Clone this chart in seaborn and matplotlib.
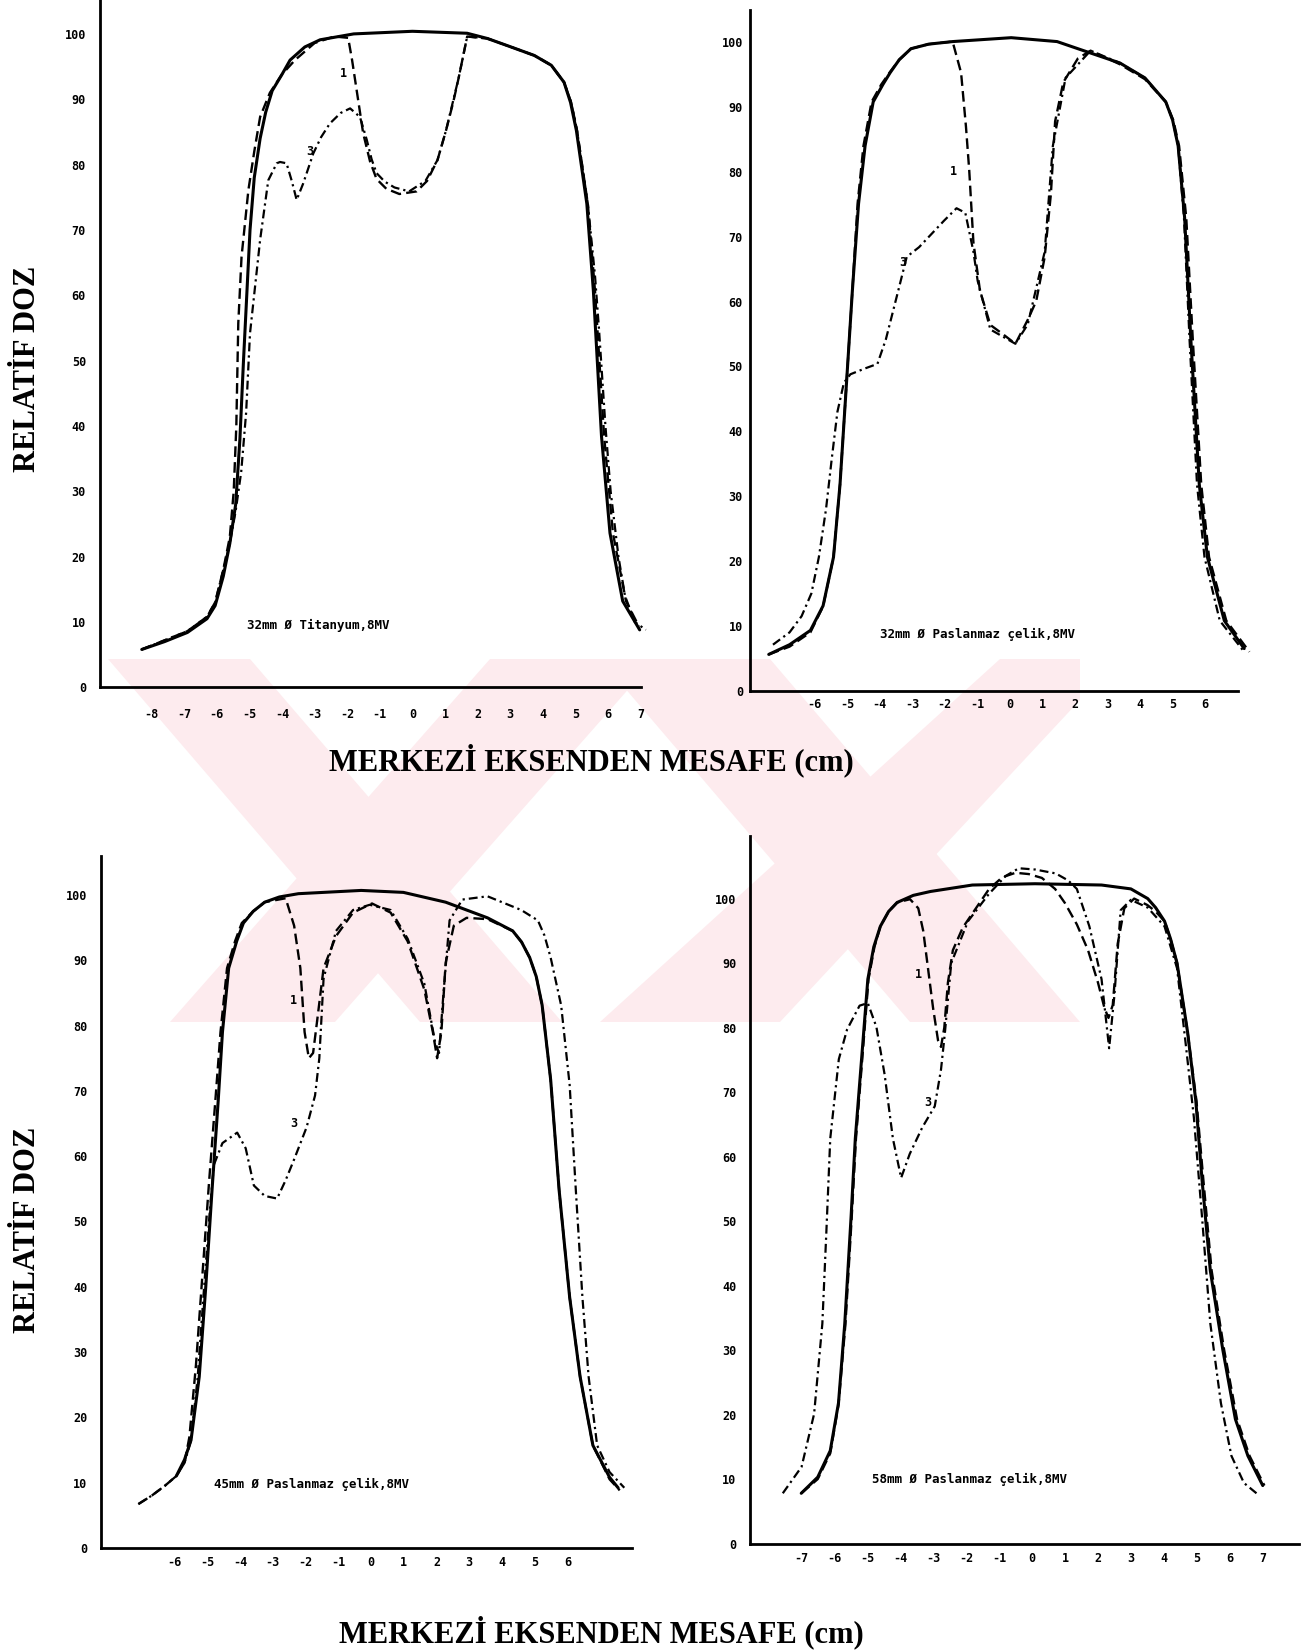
import matplotlib
matplotlib.use("Agg")
import matplotlib.pyplot as plt
import seaborn as sns
from matplotlib.patches import Polygon

# ---------------- data ----------------
y_ticks = [0, 10, 20, 30, 40, 50, 60, 70, 80, 90, 100]
x_ticks_p1 = list(range(-8, 8))
x_ticks_p2 = list(range(-6, 7))
x_ticks_p3 = list(range(-6, 7))
x_ticks_p4 = list(range(-7, 8))

titles = ["32mm \u00d8 Titanyum,8MV", "32mm \u00d8 Paslanmaz \u00e7elik,8MV",
          "45mm \u00d8 Paslanmaz \u00e7elik,8MV", "58mm \u00d8 Paslanmaz \u00e7elik,8MV"]
y_label = "RELAT\u0130F DOZ"
x_label = "MERKEZ\u0130 EKSENDEN MESAFE (cm)"

# Panel 1: 32mm titanium
p1_solid_x = [-8.3, -7.6, -6.9, -6.3, -6.05, -5.8, -5.6, -5.42, -5.29, -5.18, -5.08, -4.98, -4.85, -4.67,
              -4.5, -4.3, -4.0, -3.75, -3.3, -2.83, -1.8, 0.0, 1.68, 2.3, 2.97, 3.74, 4.26, 4.65, 4.85,
              5.03, 5.35, 5.55, 5.8, 6.06, 6.45, 6.97]
p1_solid_y = [5.8, 7.0, 8.4, 10.5, 12.5, 17, 22, 28, 38, 50, 60, 70, 78, 84,
              88, 91.3, 93.8, 96, 98, 99.1, 100, 100.4, 100.1, 99.3, 98.1, 96.7, 95.2, 92.6, 89.5,
              85.2, 74, 60.7, 38.4, 23.6, 13.2, 8.8]
p1_d1_x = [-8.3, -7.6, -6.9, -6.3, -6.05, -5.8, -5.6, -5.48, -5.4, -5.34, -5.24, -5.03, -4.85, -4.67,
           -4.37, -4.0, -3.6, -3.0, -2.4, -1.97, -1.85, -1.71, -1.51, -1.3, -1.1, -0.8, -0.4, 0.13,
           0.45, 0.77, 1.03, 1.25, 1.42, 1.68, 2.3, 2.97, 3.74, 4.26, 4.65, 4.87, 5.05, 5.38, 5.6,
           5.88, 6.15, 6.55, 6.95]
p1_d1_y = [5.8, 7.2, 8.6, 10.8, 13, 18, 23, 30, 40, 55.7, 65.9, 76.1, 82, 87.3,
           91, 93.8, 96, 98.6, 99.6, 99.4, 96, 91.4, 84.8, 80.5, 77.8, 76.3, 75.5, 75.9,
           77.5, 80.7, 85.2, 89.5, 93.3, 99.6, 99.3, 98.1, 96.7, 95.2, 92.6, 89.5, 85.2, 74, 60.7,
           38.4, 23.6, 13.2, 9.3]
p1_d3_x = [-8.3, -7.6, -6.9, -6.3, -6.05, -5.8, -5.6, -5.42, -5.25, -5.1, -4.98, -4.67, -4.42, -4.16,
           -4.06, -3.86, -3.7, -3.55, -3.35, -3.04, -2.8, -2.53, -2.2, -1.91, -1.61, -1.4, -1.25, -1.1,
           -0.85, -0.55, -0.1, 0.4, 0.77, 1.03, 1.42, 1.68, 2.3, 2.97, 3.74, 4.26, 4.65, 4.87, 5.05,
           5.38, 5.6, 5.72, 5.92, 6.08, 6.32, 6.52, 6.82, 7.16]
p1_d3_y = [5.8, 7.2, 8.6, 10.8, 13, 18, 22, 27, 33, 42, 54.2, 68.5, 77.6, 80.2,
           80.4, 80.2, 77.5, 74.6, 77.1, 81.7, 84.2, 86.3, 87.9, 88.6, 87.3, 83.8, 80.8, 78.7,
           77.4, 76.5, 75.9, 77.5, 80.7, 85.2, 93.3, 99.6, 99.3, 98.1, 96.7, 95.2, 92.6, 89.5, 85.2,
           74, 63, 55, 40, 30, 20, 14, 10, 8.8]

# Panel 2: 32mm stainless steel
p2_solid_x = [-7.41, -6.77, -6.13, -5.74, -5.42, -5.22, -5.03, -4.84, -4.65, -4.45, -4.2, -3.9, -3.68,
              -3.4, -3.04, -2.5, -1.76, 0.04, 1.45, 2.09, 3.38, 4.15, 4.79, 5.0, 5.17, 5.37, 5.56, 5.82,
              6.07, 6.59, 7.2]
p2_solid_y = [5.6, 7.1, 9.3, 13.1, 20.6, 31.8, 46.7, 61.7, 75.1, 84, 90.8, 93.5, 95.3,
              97.3, 99, 99.7, 100.1, 100.7, 100.1, 99, 96.8, 94.5, 90.8, 88, 84, 72.9, 54.2, 31.8,
              20.6, 10.8, 6.5]
p2_d1_x = [-7.41, -6.77, -6.13, -5.74, -5.42, -5.22, -5.03, -4.84, -4.68, -4.5, -4.25, -3.95, -3.7,
           -3.4, -3.04, -2.5, -1.76, -1.5, -1.35, -1.25, -1.12, -0.92, -0.6, -0.22, 0.17, 0.55, 0.81,
           1.07, 1.26, 1.39, 1.64, 2.09, 2.48, 3.38, 4.15, 4.79, 5.02, 5.2, 5.42, 5.62, 5.88, 6.12,
           6.65, 7.36]
p2_d1_y = [5.6, 6.8, 9.0, 13, 20.6, 31.8, 46.7, 61.7, 75.1, 84, 90.8, 93.5, 95.3,
           97.3, 99, 99.7, 100.1, 95.3, 87, 80.3, 69.1, 61.7, 56.4, 55, 53.5, 57.2, 60.1,
           66.9, 76.6, 87.8, 93.8, 97.5, 98.7, 96.6, 94.3, 90.8, 88, 84, 72.9, 54.2, 31.8, 20.6,
           10.8, 6.0]
p2_d3_x = [-7.28, -6.77, -6.4, -6.1, -5.87, -5.65, -5.48, -5.3, -5.1, -4.9, -4.45, -4.07, -3.81, -3.43,
           -3.17, -2.79, -2.02, -1.64, -1.37, -1.12, -0.99, -0.6, 0.17, 0.55, 1.07, 1.32, 1.71, 2.48,
           3.38, 4.15, 4.79, 5.0, 5.17, 5.35, 5.52, 5.75, 5.98, 6.45, 7.2]
p2_d3_y = [7.1, 9.0, 11.5, 15, 20.6, 28, 35.5, 43, 47.5, 48.8, 49.7, 50.4, 54.2, 61.7,
           66.9, 68.4, 72.5, 74.4, 73.7, 67.7, 63.2, 55.7, 53.5, 56.5, 67.7, 84, 94.5, 98.7,
           96.8, 94.5, 90.8, 88, 84, 72.9, 54.2, 31.8, 20.6, 10.8, 6.0]

# Panel 3: 45mm stainless steel
p3_solid_x = [-5.95, -5.7, -5.5, -5.25, -5.05, -4.86, -4.67, -4.54, -4.35, -4.1, -3.9, -3.6, -3.25,
              -2.8, -2.22, -0.3, 0.99, 2.28, 3.56, 4.33, 4.6, 4.85, 5.05, 5.23, 5.49, 5.75, 6.07, 6.39,
              6.78, 7.29, 7.55]
p3_solid_y = [11, 13.5, 16.5, 26.2, 40, 54.7, 68.5, 79, 88.8, 93, 95.7, 97.5, 98.9,
              99.7, 100.2, 100.7, 100.4, 98.9, 96.5, 94.5, 92.8, 90.4, 87.5, 83.1, 71.7, 54.7, 38.4,
              26.2, 15.7, 10.8, 9.2]
p3_d1_x = [-7.11, -6.7, -6.3, -5.95, -5.7, -5.55, -5.35, -5.15, -4.95, -4.75, -4.6, -4.4, -4.15, -3.95,
           -3.6, -3.25, -2.61, -2.35, -2.16, -2.03, -1.9, -1.77, -1.65, -1.45, -1.07, -0.55, 0.03,
           0.6, 1.12, 1.63, 1.89, 2.02, 2.15, 2.28, 2.53, 2.92, 3.56, 4.33, 4.6, 4.85, 5.05, 5.23,
           5.49, 5.75, 6.07, 6.39, 6.78, 7.29, 7.6]
p3_d1_y = [6.7, 8, 9.5, 11, 13, 17, 28, 42, 56, 69, 79, 88.8, 93, 95.7,
           97.5, 98.9, 99.5, 95.3, 88.8, 79, 75, 75.8, 80.6, 88.8, 93.7, 97.3, 98.7,
           97.3, 92.9, 85.5, 79, 75, 79, 89.6, 95.3, 96.5, 96.3, 94.5, 92.8, 90.4, 87.5, 83.1,
           71.7, 54.7, 38.4, 26.2, 15.7, 10.5, 8.8]
p3_d3_x = [-7.11, -6.7, -6.3, -5.95, -5.7, -5.5, -5.3, -5.1, -4.92, -4.8, -4.54, -4.09, -3.83, -3.58,
           -3.25, -2.87, -2.61, -2.35, -1.97, -1.71, -1.58, -1.45, -1.07, -0.55, -0.04, 0.6, 1.12,
           1.63, 1.96, 2.08, 2.21, 2.4, 2.79, 3.56, 4.59, 5.1, 5.3, 5.49, 5.81, 6.07, 6.26, 6.46,
           6.65, 6.91, 7.29, 7.74]
p3_d3_y = [6.7, 8, 9.5, 11, 13, 16.5, 26, 40, 52, 58.7, 62, 63.6, 61.2, 55.5,
           53.9, 53.5, 56.3, 59.5, 64.4, 69.3, 75, 87.2, 94.5, 97.7, 98.5, 97.7, 93.3,
           86.4, 77.4, 75.8, 84.7, 96.1, 99.3, 99.8, 97.7, 96.1, 93.8, 90.4, 83.1, 70.9, 54.7, 38.4,
           26.2, 15.7, 11.6, 9.2]

# Panel 4: 58mm stainless steel
p4_solid_x = [-7.0, -6.5, -6.12, -5.87, -5.68, -5.49, -5.36, -5.17, -4.98, -4.8, -4.6, -4.35, -4.09,
              -3.6, -3.08, -1.81, 0.09, 2.11, 3.0, 3.51, 3.75, 4.02, 4.2, 4.4, 4.72, 4.97, 5.16, 5.41,
              5.79, 6.17, 6.55, 7.0]
p4_solid_y = [7.8, 10.3, 14.4, 21.8, 34.1, 50.5, 62.8, 75.1, 87.5, 92.5, 95.7, 98, 99.4,
              100.5, 101.1, 102.1, 102.3, 102.1, 101.5, 100, 98.6, 96.5, 93.8, 90, 79.3, 68.6, 56.3,
              42.3, 30, 19.3, 13.6, 9]
p4_d1_x = [-7.0, -6.5, -6.12, -5.87, -5.66, -5.47, -5.34, -5.15, -4.96, -4.78, -4.6, -4.35, -4.09,
           -3.7, -3.45, -3.3, -3.15, -3.0, -2.85, -2.76, -2.66, -2.55, -2.4, -2.1, -1.7, -1.3, -0.9,
           -0.5, -0.1, 0.3, 0.7, 1.0, 1.36, 1.7, 2.0, 2.2, 2.32, 2.45, 2.6, 2.8, 3.1, 3.5, 3.75,
           4.02, 4.2, 4.4, 4.72, 4.99, 5.2, 5.45, 5.83, 6.22, 6.6, 7.05]
p4_d1_y = [7.8, 10, 14, 21.5, 34, 50.5, 62.8, 75.1, 87.5, 92.5, 95.7, 98, 99.4,
           99.9, 98.5, 95, 89, 83, 78, 77, 80, 87, 92, 95.5, 98.5, 101.5, 103.3,
           104, 103.8, 103.2, 101.5, 99.3, 96, 92, 87, 83, 81.5, 83.5, 93, 98.5, 100, 99, 98,
           96.5, 93.8, 90, 79.3, 68.6, 56.3, 42.3, 30, 19.3, 13.6, 9.0]
p4_d3_x = [-7.56, -6.99, -6.61, -6.36, -6.24, -6.12, -5.86, -5.61, -5.23, -4.98, -4.72, -4.47, -4.22,
           -3.97, -3.71, -3.33, -2.95, -2.76, -2.64, -2.45, -1.94, -1.31, -0.8, -0.4, 0.1, 0.72, 1.1,
           1.36, 1.74, 2.11, 2.34, 2.5, 2.69, 3.0, 3.51, 4.02, 4.4, 4.66, 4.91, 5.16, 5.41, 5.73,
           6.05, 6.43, 6.81]
p4_d3_y = [7.8, 11.9, 20.1, 34.1, 48.1, 62.8, 75.1, 79.7, 83.4, 83.8, 80.1, 72.7, 62.8,
           56.7, 60.4, 64.5, 67.8, 73.5, 79.3, 90, 96.5, 100.7, 103.5, 104.7, 104.5, 103.9, 102.8,
           101.5, 95.7, 87.5, 76.8, 85, 98.2, 99.8, 98.6, 95.7, 89.2, 77.6, 66.1, 50.5, 34.1, 21.8,
           13.6, 9.4, 7.8]

# curve label positions ("1" and "3") and annotation anchor per panel
lab1_pos = [(-2.13, 94), (-1.72, 80), (-2.38, 83.9), (-3.46, 88.3)]
lab3_pos = [(-3.14, 82), (-3.3, 66.1), (-2.35, 65), (-3.17, 68.4)]
note_pos = [(-5.06, 9.5), (-3.98, 8.7), (-4.8, 9.7), (-4.85, 10.0)]

# ---------------- style ----------------
sns.set_theme(style="white")
plt.rcParams['font.family'] = ['DejaVu Sans Mono', 'DejaVu Sans']
plt.rcParams['axes.unicode_minus'] = False
for k in ['text.color', 'axes.labelcolor', 'xtick.color', 'ytick.color', 'axes.edgecolor']:
    plt.rcParams[k] = 'black'

W, H = 1249.0, 1568.0  # layout measured in these units
fig = plt.figure(figsize=(13.15, 16.51), dpi=100)
fig.patch.set_facecolor('white')

# faint pink watermark (full-size pixel coordinates)
FW, FH = 1315.0, 1651.0
wm_color = '#fdebee'
wm_shapes = [
    [(108, 659), (250, 659), (562, 1022), (420, 1022)],
    [(170, 1022), (335, 1022), (655, 659), (490, 659)],
    [(600, 659), (770, 659), (1080, 1022), (910, 1022)],
    [(600, 1022), (780, 1022), (1080, 700), (1080, 659), (1000, 659)],
]
for shp in wm_shapes:
    pts = [(px / FW, 1 - py / FH) for px, py in shp]
    fig.add_artist(Polygon(pts, closed=True, facecolor=wm_color, edgecolor='none',
                           transform=fig.transFigure, zorder=-5))

panels = [
    dict(x0=391.7, ppcm=30.97, xlim=(-9.59, 7.3), xend=7.0, y0=652.8, ppu=6.206, ylim=(0, 105.2),
         xt=x_ticks_p1, ypad=9.9, xpad=15,
         curves=[(p1_solid_x, p1_solid_y), (p1_d1_x, p1_d1_y), (p1_d3_x, p1_d3_y)]),
    dict(x0=959.2, ppcm=30.91, xlim=(-7.99, 7.5), xend=7.02, y0=656.0, ppu=6.159, ylim=(0, 105.0),
         xt=x_ticks_p2, ypad=5.0, xpad=5.5,
         curves=[(p2_solid_x, p2_solid_y), (p2_d1_x, p2_d1_y), (p2_d3_x, p2_d3_y)]),
    dict(x0=352.4, ppcm=31.08, xlim=(-8.25, 7.97), xend=7.97, y0=1470.0, ppu=6.2, ylim=(0, 106.0),
         xt=x_ticks_p3, ypad=10.0, xpad=6,
         curves=[(p3_solid_x, p3_solid_y), (p3_d1_x, p3_d1_y), (p3_d3_x, p3_d3_y)]),
    dict(x0=980.2, ppcm=31.31, xlim=(-8.56, 8.1), xend=8.1, y0=1466.0, ppu=6.126, ylim=(0, 109.7),
         xt=x_ticks_p4, ypad=9.6, xpad=6,
         curves=[(p4_solid_x, p4_solid_y), (p4_d1_x, p4_d1_y), (p4_d3_x, p4_d3_y)]),
]

styles = [
    dict(lw=2.2, ls='-'),
    dict(lw=1.7, ls=(0, (4.5, 2.2))),
    dict(lw=1.6, ls=(0, (4.0, 1.8, 1.0, 1.8))),
]

for i, p in enumerate(panels):
    left = (p['x0'] + p['xlim'][0] * p['ppcm']) / W
    right = (p['x0'] + p['xlim'][1] * p['ppcm']) / W
    bot_px = p['y0'] - p['ylim'][0] * p['ppu']
    top_px = p['y0'] - p['ylim'][1] * p['ppu']
    ax = fig.add_axes([left, 1 - bot_px / H, right - left, (bot_px - top_px) / H])
    ax.set_facecolor('none')
    for (xs, ys), st in zip(p['curves'], styles):
        sns.lineplot(x=xs, y=ys, ax=ax, sort=False, estimator=None, color='black',
                     linewidth=st['lw'], linestyle=st['ls'], clip_on=False)
    ax.set_xlim(*p['xlim'])
    ax.set_ylim(*p['ylim'])
    ax.set_xlabel('')
    ax.set_ylabel('')
    for s in ['top', 'right']:
        ax.spines[s].set_visible(False)
    for s in ['left', 'bottom']:
        ax.spines[s].set_linewidth(2.0)
        ax.spines[s].set_color('black')
    ax.spines['bottom'].set_bounds(p['xlim'][0], p['xend'])
    ax.set_xticks(p['xt'])
    ax.set_xticklabels([str(v) for v in p['xt']], fontsize=8.5, fontweight='bold')
    ax.set_yticks(y_ticks)
    ax.set_yticklabels([str(v) for v in y_ticks], fontsize=8.5, fontweight='bold')
    ax.tick_params(axis='both', direction='in', length=4, width=1.4, color='black')
    ax.tick_params(axis='x', pad=p['xpad'])
    ax.tick_params(axis='y', pad=p['ypad'])
    ax.grid(False)
    ax.text(lab1_pos[i][0], lab1_pos[i][1], '1', fontsize=8.5, fontweight='bold', ha='center', va='center')
    ax.text(lab3_pos[i][0], lab3_pos[i][1], '3', fontsize=8.5, fontweight='bold', ha='center', va='center')
    ax.text(note_pos[i][0], note_pos[i][1], titles[i], fontsize=9, fontweight='bold',
            ha='left', va='center')

serif = ['Liberation Serif', 'DejaVu Serif']
for yc in [1 - 350 / H, 1 - 1168 / H]:
    fig.text(26 / W, yc, y_label, rotation=90, ha='center', va='center', fontsize=22,
             fontweight='bold', family=serif)
fig.text(561.5 / W, 1 - 722 / H, x_label, ha='center', va='center', fontsize=22,
         fontweight='bold', family=serif)
fig.text(571.5 / W, 1 - 1550 / H, x_label, ha='center', va='center', fontsize=22,
         fontweight='bold', family=serif)

fig.savefig('out.png', dpi=100, facecolor='white')
